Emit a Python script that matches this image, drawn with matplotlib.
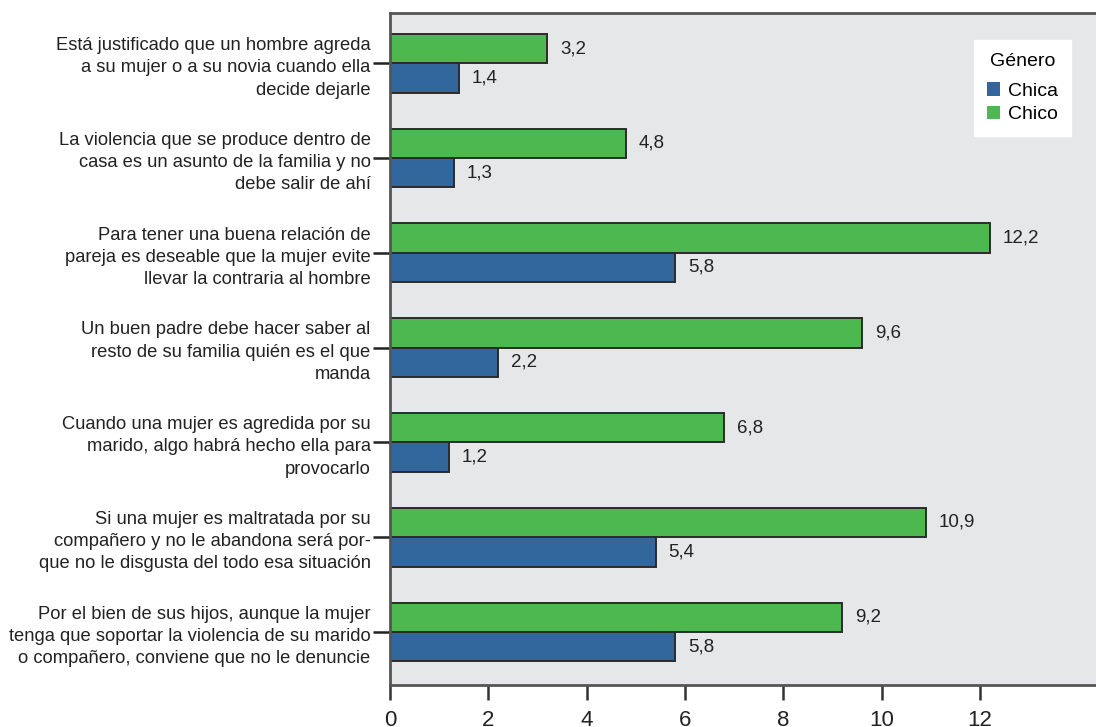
import matplotlib
matplotlib.use('Agg')
from matplotlib import pyplot as plt
from matplotlib.patches import Patch
import numpy as np

plt.rcParams['font.family'] = ['Liberation Sans', 'DejaVu Sans']

preguntas = [
    "Está justificado que un hombre agreda\na su mujer o a su novia cuando ella\ndecide dejarle",
    "La violencia que se produce dentro de\ncasa es un asunto de la familia y no\ndebe salir de ahí",
    "Para tener una buena relación de\npareja es deseable que la mujer evite\nllevar la contraria al hombre",
    "Un buen padre debe hacer saber al\nresto de su familia quién es el que\nmanda",
    "Cuando una mujer es agredida por su\nmarido, algo habrá hecho ella para\nprovocarlo",
    "Si una mujer es maltratada por su\ncompañero y no le abandona será por-\nque no le disgusta del todo esa situación",
    "Por el bien de sus hijos, aunque la mujer\ntenga que soportar la violencia de su marido\no compañero, conviene que no le denuncie",
]
chico = [3.2, 4.8, 12.2, 9.6, 6.8, 10.9, 9.2]
chica = [1.4, 1.3, 5.8, 2.2, 1.2, 5.4, 5.8]
xticks = [0, 2, 4, 6, 8, 10, 12]

verde = '#4cb84f'
azul = '#31679c'

fig = plt.figure(figsize=(10.96, 7.27), dpi=100)
ax = fig.add_axes([390/1096, 1 - 685/727, 1 - 390/1096 + 0.002, (685 - 13)/727])
ax.set_facecolor('#e6e7e8')

y = np.arange(len(preguntas))
h = 0.31
ax.barh(y - h/2, chico, height=h, color=verde, edgecolor='#2b2b2b', linewidth=1.4)
ax.barh(y + h/2, chica, height=h, color=azul, edgecolor='#2b2b2b', linewidth=1.4)

for i in range(len(preguntas)):
    ax.annotate(f"{chico[i]:.1f}".replace('.', ','), (chico[i], y[i] - h/2),
                xytext=(9, 0), textcoords='offset points', va='center', ha='left',
                fontsize=13.5, color='#222222')
    ax.annotate(f"{chica[i]:.1f}".replace('.', ','), (chica[i], y[i] + h/2),
                xytext=(9, 0), textcoords='offset points', va='center', ha='left',
                fontsize=13.5, color='#222222')

ax.set_xlim(0, 14.4)
ax.set_ylim(6.56, -0.53)
ax.set_yticks(y)
ax.set_yticklabels(preguntas, fontsize=13.2, color='#222222', multialignment='right',
                   linespacing=1.4)
ax.set_xticks(xticks)
ax.set_xticklabels([str(t) for t in xticks], fontsize=16, color='#222222')
ax.tick_params(axis='y', length=12, width=1.8, color='#222222', pad=2)
ax.tick_params(axis='x', length=11, width=1.8, color='#333333', pad=7)

for s in ['top', 'left', 'bottom']:
    ax.spines[s].set_linewidth(2)
    ax.spines[s].set_color('#555555')
ax.spines['right'].set_visible(False)

handles = [Patch(facecolor=azul, label='Chica'), Patch(facecolor=verde, label='Chico')]
leg = ax.legend(handles=handles, title='Género', loc='upper left',
                bbox_to_anchor=((973 - 390) / 707, 1 - (40 - 13) / 672), fontsize=14,
                title_fontsize=14, frameon=True, fancybox=False, edgecolor='white',
                framealpha=1, handlelength=0.7, handleheight=0.7, handletextpad=0.4,
                borderpad=0.65, labelspacing=0.3, borderaxespad=0)
leg._legend_box.sep = 9

fig.savefig('out.png', dpi=100)
